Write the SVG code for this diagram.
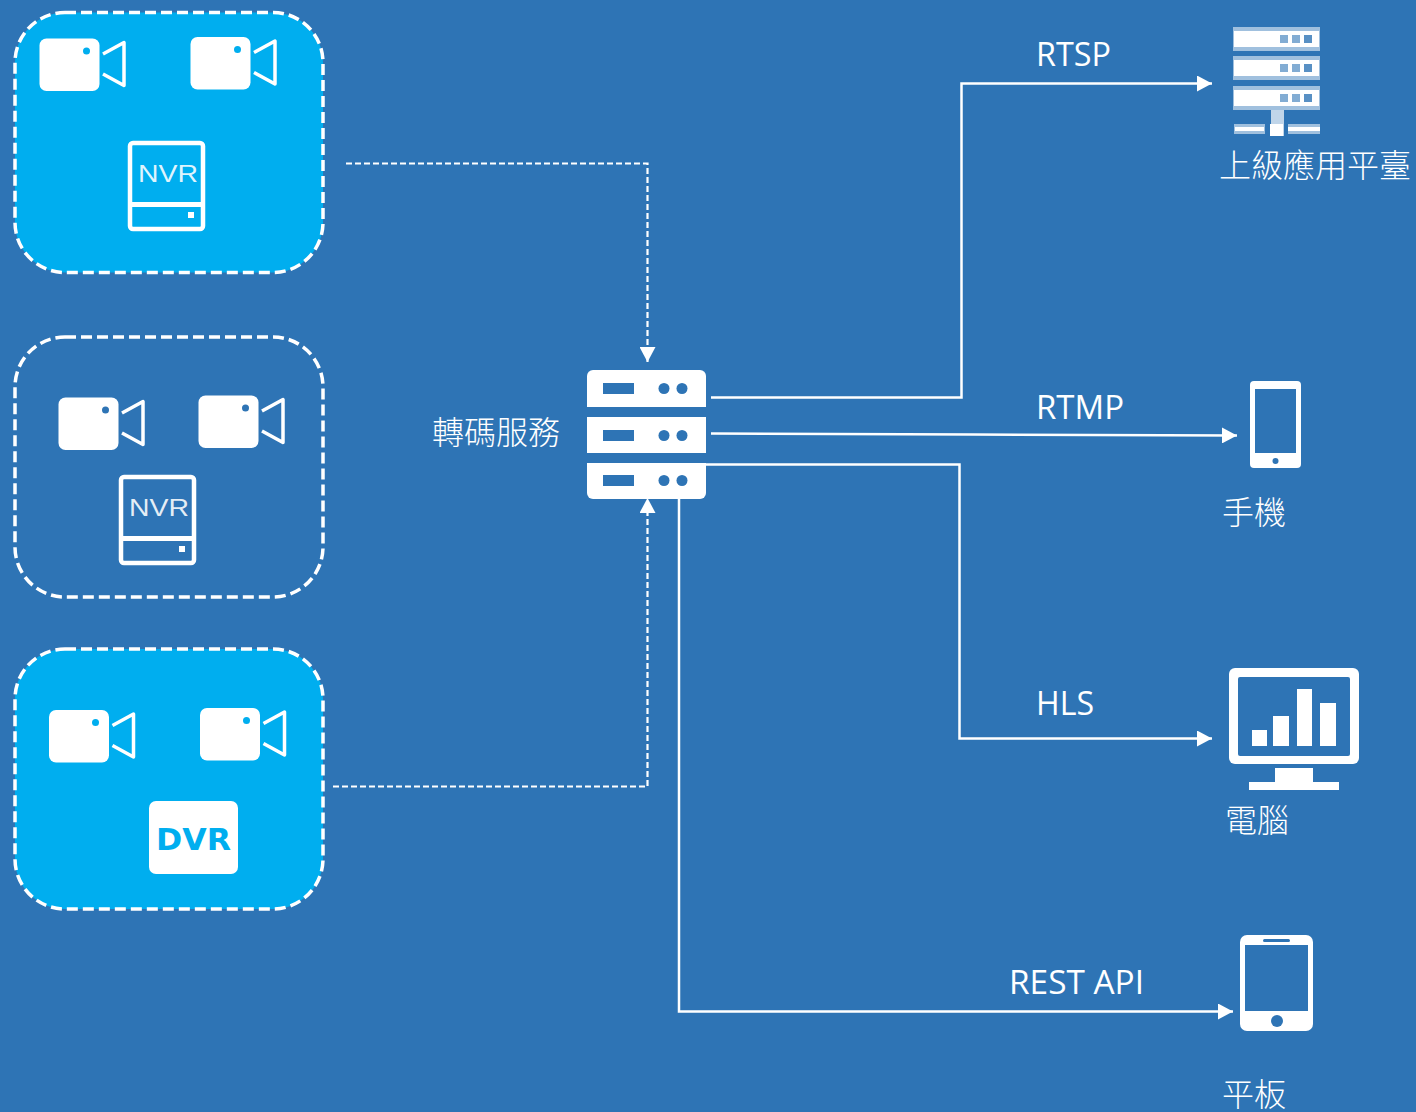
<svg xmlns="http://www.w3.org/2000/svg" width="1416" height="1112" viewBox="0 0 1416 1112">
<style>
.box{stroke:#fff;stroke-width:3.500;stroke-dasharray:11 5;fill:none}
.filled{fill:#00aeef}
.line{fill:none;stroke:#fff;stroke-width:2.500}
.dash{fill:none;stroke:#fff;stroke-width:2.200;stroke-dasharray:6 3}
.lbl{font-family:"Open Sans","Noto Sans",sans-serif;font-size:32px;fill:#fff}
.cjk{font-family:"Noto Sans CJK TC","Noto Sans",sans-serif;font-size:32px;fill:#fff;font-weight:300}
.w{fill:#fff}.bg{fill:#2e74b5}
</style>
<defs>
<marker id="arr" viewBox="0 0 15 16" refX="15" refY="8" markerWidth="15" markerHeight="16" markerUnits="userSpaceOnUse" orient="auto"><path d="M0 0L15 8L0 16Z" fill="#fff"/></marker>
<symbol id="cam" overflow="visible">
<rect x="0.500" y="0" width="60" height="52.500" rx="7" fill="#fff"/>
<path d="M64 15.500L85 4V47L64 35.500" fill="none" stroke="#fff" stroke-width="3.500" stroke-linejoin="round"/>
</symbol>
<symbol id="nvr" overflow="visible">
<rect x="2" y="2" width="73" height="86" rx="3" fill="none" stroke="#fff" stroke-width="4.500"/>
<rect x="2" y="61" width="73" height="5" fill="#fff"/>
<rect x="60" y="71" width="6" height="6" fill="#fff"/>
<text x="10" y="41" font-family="Liberation Sans,sans-serif" font-size="24" fill="#fff" fill-opacity="0.88" textLength="60" lengthAdjust="spacingAndGlyphs">NVR</text>
</symbol>
<symbol id="srvrow" overflow="visible">
<rect x="16" y="13" width="31" height="11" class="bg"/>
<circle cx="77" cy="18.500" r="5.500" class="bg"/>
<circle cx="95" cy="18.500" r="5.500" class="bg"/>
</symbol>
<symbol id="toprow" overflow="visible">
<rect x="0" y="0" width="87" height="24" fill="#fff" opacity="0.55"/>
<rect x="1" y="4" width="85" height="16" fill="#fff"/>
<rect x="47" y="8" width="8" height="8" class="bg" opacity="0.6"/>
<rect x="59" y="8" width="8" height="8" class="bg" opacity="0.6"/>
<rect x="71" y="8" width="8" height="8" class="bg" opacity="0.8"/>
</symbol>
</defs>
<rect width="1416" height="1112" fill="#2e74b5"/>

<g id="connectors">
<path class="dash" d="M346 163.500H647.500V362" marker-end="url(#arr)"/>
<path class="dash" d="M333 786.500H647.500V498" marker-end="url(#arr)"/>
<path class="line" d="M711 397.500H961.500V83.500H1212" marker-end="url(#arr)"/>
<path class="line" d="M711 433.500L973 434.500L1237 435.500" marker-end="url(#arr)"/>
<path class="line" d="M706 464.500H959.500V738.500H1212" marker-end="url(#arr)"/>
<path class="line" d="M679 499V1011.500H1233" marker-end="url(#arr)"/>
</g>

<g id="group-1">
<rect class="box filled" x="15" y="12.500" width="308" height="260" rx="50"/>
<use href="#cam" x="39" y="38.500"/><circle cx="86.500" cy="51" r="3.500" class="filled"/>
<use href="#cam" x="190" y="37"/><circle cx="237.500" cy="49.500" r="3.500" class="filled"/>
<use href="#nvr" x="128" y="141"/>
</g>
<g id="group-2">
<rect class="box" x="15" y="337" width="308" height="260" rx="50"/>
<use href="#cam" x="58" y="397.500"/><circle cx="105.500" cy="410" r="3.500" class="bg"/>
<use href="#cam" x="198" y="395.500"/><circle cx="245.500" cy="408" r="3.500" class="bg"/>
<use href="#nvr" x="119" y="475"/>
</g>
<g id="group-3">
<rect class="box filled" x="15" y="649" width="308" height="260" rx="50"/>
<use href="#cam" x="48.500" y="710"/><circle cx="95.500" cy="722.500" r="3.500" class="filled"/>
<use href="#cam" x="199.500" y="708"/><circle cx="246.500" cy="720.500" r="3.500" class="filled"/>
<rect x="149" y="801" width="89" height="73" rx="7" fill="#fff"/>
<text x="156" y="850" font-family="DejaVu Sans,sans-serif" font-weight="700" font-size="31" fill="#00aeef" textLength="75" lengthAdjust="spacingAndGlyphs">DVR</text>
</g>

<g id="transcoder">
<path class="w" d="M587 407V376a6 6 0 0 1 6-6H700a6 6 0 0 1 6 6V407Z"/>
<rect class="w" x="587" y="417" width="119" height="36"/>
<path class="w" d="M587 463H706V493a6 6 0 0 1-6 6H593a6 6 0 0 1-6-6Z"/>
<use href="#srvrow" x="587" y="370"/>
<use href="#srvrow" x="587" y="417"/>
<use href="#srvrow" x="587" y="462"/>
<text class="cjk" x="432" y="444">轉碼服務</text>
</g>

<g id="platform">
<use href="#toprow" x="1233" y="27"/>
<use href="#toprow" x="1233" y="56"/>
<use href="#toprow" x="1233" y="86"/>
<rect x="1271" y="110" width="13" height="26" fill="#fff" opacity="0.7"/>
<rect x="1234" y="124" width="31" height="10" fill="#fff" opacity="0.55"/>
<rect x="1288" y="124" width="32" height="10" fill="#fff" opacity="0.55"/>
<rect x="1235" y="127" width="29" height="4" fill="#fff"/>
<rect x="1288" y="127" width="32" height="4" fill="#fff"/>
<rect x="1270" y="124" width="13" height="12" fill="#fff"/>
<text class="cjk" x="1219" y="177">上級應用平臺</text>
</g>

<g id="phone">
<rect class="w" x="1250" y="381" width="51" height="87" rx="4"/>
<rect class="bg" x="1255" y="389" width="41" height="64"/>
<circle class="bg" cx="1275.500" cy="461" r="3"/>
<text class="cjk" x="1222" y="524">手機</text>
</g>

<g id="computer">
<rect class="w" x="1229" y="668" width="130" height="96" rx="6"/>
<rect class="bg" x="1238" y="677" width="112" height="79" rx="2"/>
<rect class="w" x="1252" y="730" width="15" height="16"/>
<rect class="w" x="1273" y="716" width="16" height="30"/>
<rect class="w" x="1297" y="689" width="15" height="57"/>
<rect class="w" x="1320" y="703" width="16" height="43"/>
<path class="w" d="M1275 768H1313V782H1339V790H1249V782H1275Z"/>
<text class="cjk" x="1225" y="832">電腦</text>
</g>

<g id="tablet">
<rect class="w" x="1240" y="935" width="73" height="96" rx="7"/>
<rect class="bg" x="1245" y="945" width="63" height="66"/>
<rect class="bg" x="1263" y="939" width="27" height="3" rx="1.500"/>
<circle class="bg" cx="1277" cy="1021" r="6"/>
<text class="cjk" x="1222" y="1106">平板</text>
</g>

<g id="labels">
<text class="lbl" x="1036" y="66" textLength="75" lengthAdjust="spacingAndGlyphs">RTSP</text>
<text class="lbl" x="1036" y="419" textLength="88" lengthAdjust="spacingAndGlyphs">RTMP</text>
<text class="lbl" x="1036" y="715" textLength="58" lengthAdjust="spacingAndGlyphs">HLS</text>
<text class="lbl" x="1009" y="994" textLength="135" lengthAdjust="spacingAndGlyphs">REST API</text>
</g>
</svg>
